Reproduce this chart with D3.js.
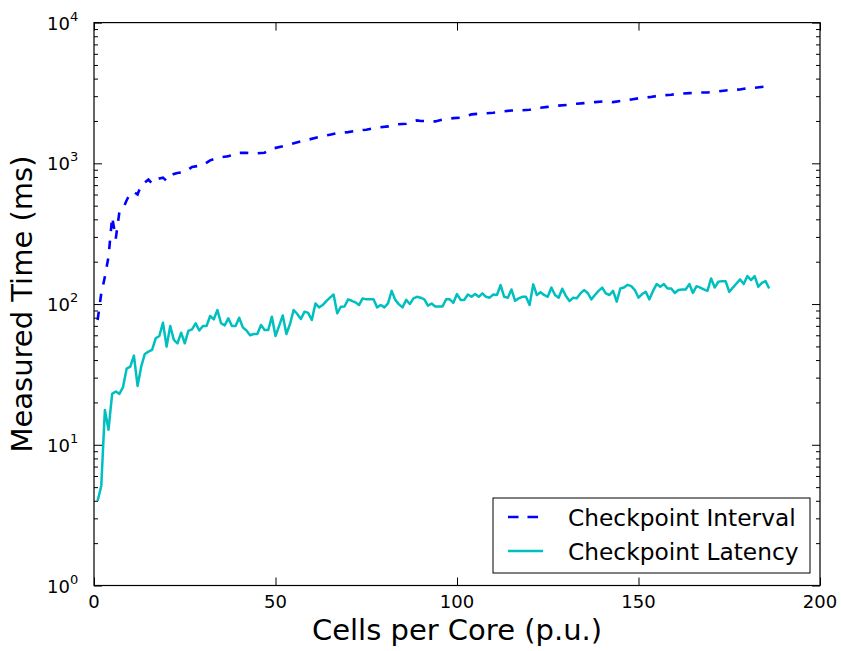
<!DOCTYPE html>
<html>
<head>
<meta charset="utf-8">
<script src="https://cdn.jsdelivr.net/npm/d3@7"></script>
<style>
  body { margin: 0; background: #fff; }
  svg { font-family: "DejaVu Sans", sans-serif; }
</style>
</head>
<body>
<div id="container"></div>
<script>
// Checkpoint Interval (x, ms)
const intervalX = [1, 2, 3, 4, 5, 6, 7, 8, 9, 10, 11, 12, 13, 14, 15, 16, 17, 18, 19, 20,
  21, 22, 23, 25, 27, 30, 32, 34, 37, 39, 42, 44, 47, 49, 52, 54, 57, 59, 62, 65,
  67, 70, 73, 75, 78, 81, 83, 86, 89, 90, 94, 96, 99, 101, 104, 106, 110, 111, 115, 117,
  120, 122, 125, 127, 131, 133, 135, 138, 141, 143, 146, 148, 151, 153, 156, 159, 161, 164, 167, 169,
  172, 174, 178, 179, 182, 186];
const intervalY = [77, 119, 156, 217, 416, 292, 452, 477, 547, 610, 626, 600, 700, 730, 766, 718, 760, 780, 791, 750,
  800, 840, 854, 867, 942, 970, 1050, 1097, 1121, 1183, 1190, 1172, 1190, 1270, 1320, 1364, 1432, 1472, 1537, 1597,
  1640, 1667, 1714, 1733, 1791, 1830, 1891, 1910, 2018, 2000, 1985, 2042, 2096, 2110, 2227, 2250, 2290, 2310, 2376, 2376,
  2403, 2467, 2520, 2560, 2608, 2652, 2678, 2722, 2767, 2722, 2798, 2844, 2924, 2952, 3036, 3070, 3120, 3154, 3190, 3190,
  3243, 3296, 3350, 3388, 3443, 3534];

// Checkpoint Latency: one value per cell count, 1..186
const latencyX = d3.range(1, 187);
const latencyY = [4.0, 5.1, 17.7, 12.8, 23, 23.9, 23, 25.7, 34.8, 35.9,
  43, 26.2, 35.9, 44.2, 45.9, 47.2, 57.1, 59.3, 73.7, 49.8,
  69.8, 55.6, 52.6, 62.6, 52.6, 64.4, 66.1, 73, 64.9, 69.8,
  69.8, 82.2, 77.9, 90.7, 73, 70.6, 79.2, 69.8, 69.8, 80,
  68.3, 64.9, 60, 61.3, 61.3, 71, 65.4, 65.4, 81.3, 59.3,
  70, 83, 61.3, 72.1, 90.7, 85, 78.3, 88.3, 86.5, 77,
  101, 94.7, 98.4, 105, 111, 117, 85.9, 95.7, 96, 108,
  105.5, 102.8, 98.4, 109.7, 108, 108, 108, 94.7, 98.4, 94.7,
  101, 124, 107, 99.5, 94.7, 107, 100, 109.7, 112.6, 111,
  108, 97.3, 101, 96, 96, 96, 108, 108, 102, 117.8,
  107, 107, 117, 112.6, 117.8, 112.6, 119, 112.6, 111, 117,
  116, 136.4, 112.6, 111, 127, 105.5, 109.7, 112.6, 112.6, 98.4,
  138, 116, 121.5, 116, 112.6, 131, 116, 111, 128.4, 114,
  105, 111, 110, 119, 125.7, 120, 108, 116, 124, 131,
  119, 116, 124, 104, 129, 131, 137, 134, 125.7, 111,
  117.8, 122, 108, 124, 138.6, 132.7, 138.6, 129, 129, 120,
  125.7, 127, 127, 138.6, 120, 134, 131, 127, 124, 152,
  131, 144, 145.5, 145.5, 122, 131, 140, 149.6, 138.6, 158,
  148, 158, 132.7, 141.6, 145.5, 129];

const xTicks = [0, 50, 100, 150, 200];
const yExponents = [0, 1, 2, 3, 4];
const seriesNames = ["Checkpoint Interval", "Checkpoint Latency"];

const w = 841;
const h = 651;
const plotLeft = 94, plotRight = 820, plotTop = 22.6, plotBottom = 585.5;

const svg = d3.select("#container")
  .append("svg")
  .attr("width", w)
  .attr("height", h);

svg.append("rect").attr("width", w).attr("height", h).attr("fill", "#fff");

//SCALES
const xScale = d3.scaleLinear().domain([0, 200]).range([plotLeft, plotRight]);
const yScale = d3.scaleLog().domain([1, 1e4]).range([plotBottom, plotTop]);

//LINES
const interval = intervalX.map((x, i) => [x, intervalY[i]]);
const latency = latencyX.map((x, i) => [x, latencyY[i]]);
const line = d3.line().x(d => xScale(d[0])).y(d => yScale(d[1]));

svg.append("path")
  .datum(latency)
  .attr("d", line)
  .attr("fill", "none")
  .attr("stroke", "#00bfbf")
  .attr("stroke-width", 2.5)
  .attr("stroke-linejoin", "round");

svg.append("path")
  .datum(interval)
  .attr("d", line)
  .attr("fill", "none")
  .attr("stroke", "#0000ff")
  .attr("stroke-width", 2.6)
  .attr("stroke-dasharray", "8.5,9.5");

//AXES (ticks point inward, on all four sides)
const minorVals = [];
for (let e = 0; e < 4; e++) {
  for (let k = 2; k <= 9; k++) minorVals.push(k * Math.pow(10, e));
}

function addAxis(axis, tx, ty) {
  const g = svg.append("g")
    .attr("transform", `translate(${tx},${ty})`)
    .call(axis);
  g.select(".domain").remove();
  g.selectAll("text").remove();
  g.selectAll("line").attr("stroke", "#000").attr("stroke-width", 1);
  return g;
}

const majorY = yExponents.map(e => Math.pow(10, e));
addAxis(d3.axisLeft(yScale).tickValues(majorY).tickSize(-8), plotLeft, 0);
addAxis(d3.axisLeft(yScale).tickValues(minorVals).tickSize(-4), plotLeft, 0);
addAxis(d3.axisRight(yScale).tickValues(majorY).tickSize(-8), plotRight, 0);
addAxis(d3.axisRight(yScale).tickValues(minorVals).tickSize(-4), plotRight, 0);
addAxis(d3.axisBottom(xScale).tickValues(xTicks).tickSize(-8), 0, plotBottom);
addAxis(d3.axisTop(xScale).tickValues(xTicks).tickSize(-8), 0, plotTop);

svg.append("rect")
  .attr("x", plotLeft).attr("y", plotTop)
  .attr("width", plotRight - plotLeft).attr("height", plotBottom - plotTop)
  .attr("fill", "none").attr("stroke", "#000").attr("stroke-width", 1.2);

//TICK LABELS
svg.append("g")
  .selectAll("text")
  .data(xTicks)
  .enter()
  .append("text")
  .attr("x", d => xScale(d))
  .attr("y", plotBottom + 22)
  .attr("text-anchor", "middle")
  .attr("font-size", 18)
  .text(d => d);

const yLab = svg.append("g")
  .selectAll("text")
  .data(yExponents)
  .enter()
  .append("text")
  .attr("x", 47)
  .attr("y", d => yScale(Math.pow(10, d)) + 7)
  .attr("font-size", 18);
yLab.append("tspan").text("10");
yLab.append("tspan").attr("dy", -9).attr("font-size", 13).text(d => d);

//AXIS LABELS
svg.append("text")
  .attr("x", (plotLeft + plotRight) / 2)
  .attr("y", 640)
  .attr("text-anchor", "middle")
  .attr("font-size", 29)
  .text("Cells per Core (p.u.)");

svg.append("text")
  .attr("transform", `translate(32, ${(plotTop + plotBottom) / 2}) rotate(-90)`)
  .attr("text-anchor", "middle")
  .attr("font-size", 29)
  .text("Measured Time (ms)");

//LEGEND
const legend = svg.append("g").attr("transform", "translate(493,498)");
legend.append("rect")
  .attr("width", 317).attr("height", 75)
  .attr("fill", "#fff").attr("stroke", "#000").attr("stroke-width", 1);

const legendStyles = [
  { color: "#0000ff", dash: "10.5,9" },
  { color: "#00bfbf", dash: null }
];
legend.selectAll(".sample")
  .data(seriesNames)
  .enter()
  .append("line")
  .attr("class", "sample")
  .attr("x1", 15).attr("x2", 50)
  .attr("y1", (d, i) => 19 + i * 34).attr("y2", (d, i) => 19 + i * 34)
  .attr("stroke", (d, i) => legendStyles[i].color)
  .attr("stroke-width", 2.6)
  .attr("stroke-dasharray", (d, i) => legendStyles[i].dash);

legend.selectAll(".label")
  .data(seriesNames)
  .enter()
  .append("text")
  .attr("class", "label")
  .attr("x", 75)
  .attr("y", (d, i) => 27.5 + i * 34)
  .attr("font-size", 23.3)
  .text(d => d);
</script>
</body>
</html>
